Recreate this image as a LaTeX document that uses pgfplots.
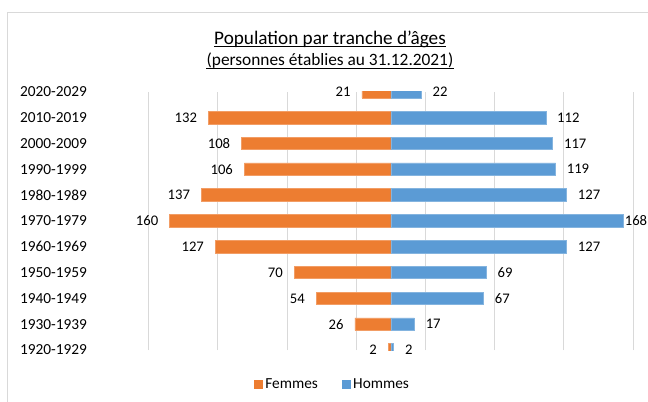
\documentclass[border=0pt]{standalone}
\usepackage{pgfplots}
\pgfplotsset{compat=1.18}
\usepackage{pgfplotstable}
\usepackage{fontspec}
\setmainfont{Carlito}
\definecolor{femmes}{HTML}{ED7D31}
\definecolor{hommes}{HTML}{5B9BD5}
\definecolor{gridgray}{HTML}{D9D9D9}

% pos = row (0 = bottom), f = Femmes, h = Hommes, hdx = label shift for Hommes
\pgfplotstableread{
pos tranche f h hdx
0 1920-1929 2 2 8.25
1 1930-1939 26 17 8.25
2 1940-1949 54 67 8.25
3 1950-1959 70 69 8.25
4 1960-1969 127 127 8.25
5 1970-1979 160 168 0.9
6 1980-1989 137 127 8.25
7 1990-1999 106 119 8.25
8 2000-2009 108 117 8.25
9 2010-2019 132 112 8.25
10 2020-2029 21 22 8.25
}\agedata

\begin{document}
\begin{tikzpicture}
\useasboundingbox (0,0) rectangle (486pt,-300.75pt);
\draw[gridgray, line width=0.75pt] (5.55pt,-302pt) -- (5.55pt,-9.5pt) -- (488pt,-9.5pt);

\node[anchor=base, inner sep=0pt, font=\fontsize{14.4}{17}\selectfont] (t1) at (247.5pt,-33.2pt)
  {Population par tranche d’âges};
\draw[line width=0.6pt] ([yshift=-1.6pt]t1.base west) -- ([yshift=-1.6pt]t1.base east);
\node[anchor=base, inner sep=0pt, font=\fontsize{13}{15}\selectfont] (t2) at (247.5pt,-49pt)
  {(personnes établies au 31.12.2021)};
\draw[line width=0.6pt] ([yshift=-2.6pt]t2.base west) -- ([yshift=-2.6pt]t2.base east);

\begin{axis}[
    at={(111.6pt,-262.5pt)}, anchor=south west,
    scale only axis,
    width=363.15pt, height=193.7pt,
    xmin=-175, xmax=175, ymin=0, ymax=10,
    xtick={-175,-125,...,175},
    xticklabels={,,,,,,,,},
    xmajorgrids=true,
    grid style={gridgray, line width=0.75pt},
    major tick length=0pt,
    axis line style={draw=none},
    ytick={0,...,10},
    yticklabels from table={\agedata}{tranche},
    yticklabel style={anchor=west, inner sep=0pt, xshift=-96.75pt,
        font=\fontsize{11.5}{13}\selectfont},
    /pgf/number format/assume math mode=true,
    xbar, bar width=9.45pt, bar shift=0pt,
    legend style={at={(axis description cs:0.38,-0.132)}, anchor=center,
        draw=none, fill=none, legend columns=-1,
        font=\fontsize{11.5}{13}\selectfont,
        /tikz/every even column/.append style={column sep=16pt}},
]
\addplot[fill=femmes, draw=femmes!75!white, line width=0.5pt,
    nodes near coords, point meta=explicit,
    nodes near coords style={anchor=east, inner sep=0pt, xshift=-8.25pt,
        text=black, font=\fontsize{11}{13}\selectfont},
    legend image code/.code={\fill[femmes] (0pt,-3pt) rectangle (6pt,3pt);}]
    table[x expr=-\thisrow{f}, y=pos, meta=f] {\agedata};
\addlegendentry{Femmes}
\addplot[fill=hommes, draw=hommes!75!white, line width=0.5pt,
    nodes near coords, point meta=explicit,
    visualization depends on={\thisrow{hdx} \as \hdx},
    nodes near coords style={anchor=west, inner sep=0pt, xshift={\hdx*1pt},
        text=black, font=\fontsize{11}{13}\selectfont},
    legend image code/.code={\fill[hommes] (0pt,-3pt) rectangle (6pt,3pt);}]
    table[x=h, y=pos, meta=h] {\agedata};
\addlegendentry{Hommes}
\end{axis}
\end{tikzpicture}
\end{document}
